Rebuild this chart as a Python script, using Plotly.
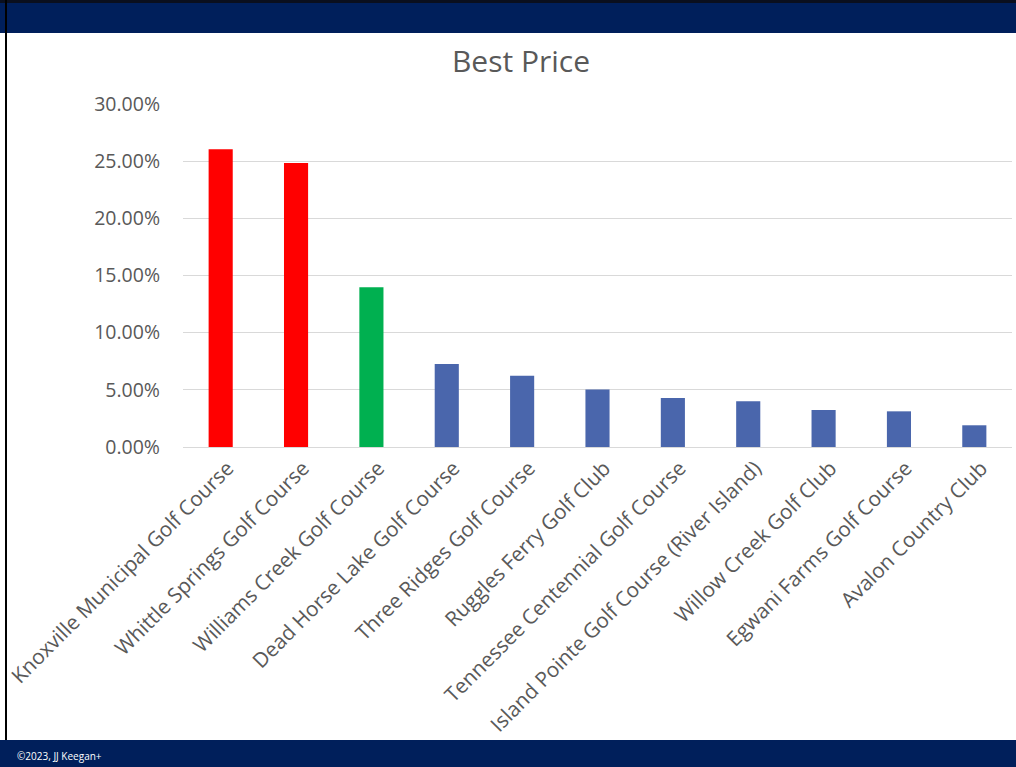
import plotly.graph_objects as go

courses = [
    "Knoxville Municipal Golf Course",
    "Whittle Springs Golf Course",
    "Williams Creek Golf Course",
    "Dead Horse Lake Golf Course",
    "Three Ridges Golf Course",
    "Ruggles Ferry Golf Club",
    "Tennessee Centennial Golf Course",
    "Island Pointe Golf Course (River Island)",
    "Willow Creek Golf Club",
    "Egwani Farms Golf Course",
    "Avalon Country Club",
]
best_price = [0.2604, 0.2484, 0.1397, 0.0726, 0.0624, 0.0504, 0.0429, 0.0400, 0.0324, 0.0312, 0.0190]
bar_colors = ["#FF0000", "#FF0000", "#00B050"] + ["#4A66AC"] * 8

W, H = 1016, 767
L, R, T, B = 183, 1012, 104, 447
pw, ph = R - L, B - T

def px(x):
    return (x - L) / pw

def py(y):
    return (B - y) / ph

FONT = "Open Sans"
GRAY = "#595959"

fig = go.Figure(go.Bar(
    x=courses, y=best_price, marker=dict(color=bar_colors, line=dict(width=0)),
    width=0.32,
))

shapes = [
    dict(type="rect", xref="paper", yref="paper", x0=px(0), x1=px(W), y0=py(33), y1=py(0),
         fillcolor="#001F5B", line=dict(width=0), layer="below"),
    dict(type="rect", xref="paper", yref="paper", x0=px(0), x1=px(W), y0=py(3), y1=py(0),
         fillcolor="#0A0F1E", line=dict(width=0), layer="below"),
    dict(type="rect", xref="paper", yref="paper", x0=px(0), x1=px(W), y0=py(H), y1=py(740),
         fillcolor="#001F5B", line=dict(width=0), layer="below"),
    dict(type="rect", xref="paper", yref="paper", x0=px(5), x1=px(7), y0=py(740), y1=py(0),
         fillcolor="#000000", line=dict(width=0), layer="below"),
]

fig.update_layout(
    width=W, height=H,
    margin=dict(l=L, r=W - R, t=T, b=H - B, pad=0, autoexpand=False),
    paper_bgcolor="white", plot_bgcolor="white",
    showlegend=False,
    bargap=0.68,
    font=dict(family=FONT, color=GRAY),
    title=dict(text="Best Price", x=521 / W, xanchor="center", y=1 - 61 / H, yanchor="middle",
               xref="container", yref="container",
               font=dict(family=FONT, size=30, color=GRAY)),
    shapes=shapes,
    annotations=[dict(text="©2023, JJ Keegan+", xref="paper", yref="paper", x=px(15), y=py(756),
                      xanchor="left", yanchor="middle", showarrow=False,
                      font=dict(family=FONT, size=10, color="white"))],
)
fig.update_xaxes(
    tickangle=-45, tickfont=dict(family=FONT, size=20.7, color=GRAY),
    showline=True, linecolor="#D9D9D9", linewidth=1, showgrid=False, ticks="",
    range=[-0.5, len(courses) - 0.5], automargin=False, ticklabelshift=7,
)
fig.update_yaxes(
    range=[0, 0.30], dtick=0.05, tickformat=".2%",
    tickfont=dict(family=FONT, size=19.5, color=GRAY),
    showgrid=True, gridcolor="#D9D9D9", gridwidth=1, zeroline=False,
    showline=False, ticks="", ticklabelstandoff=22, automargin=False,
)

fig.write_html("out.html")
